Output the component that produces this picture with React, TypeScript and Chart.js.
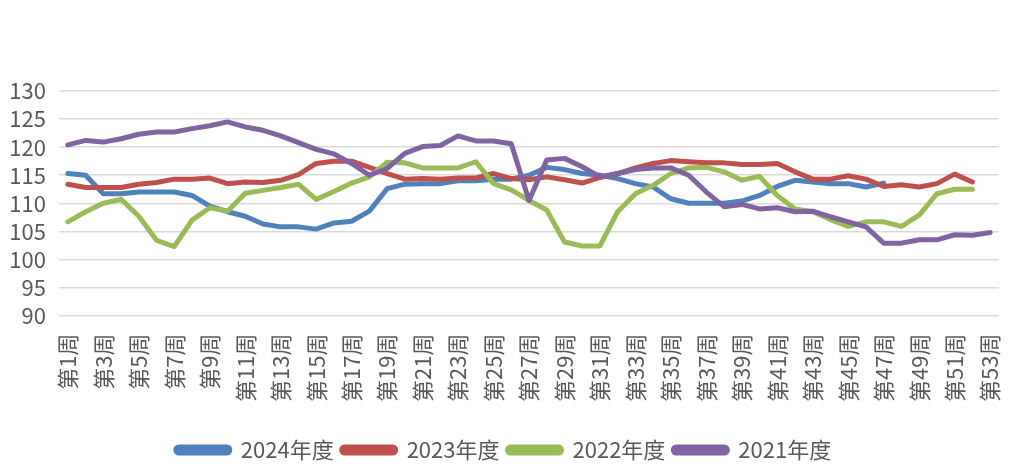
import React, { useEffect, useRef } from "react";
import { Chart, registerables } from "chart.js";

Chart.register(...registerables);

const weeks = [
  "第1周", "第2周", "第3周", "第4周", "第5周", "第6周", "第7周", "第8周", "第9周", "第10周",
  "第11周", "第12周", "第13周", "第14周", "第15周", "第16周", "第17周", "第18周", "第19周", "第20周",
  "第21周", "第22周", "第23周", "第24周", "第25周", "第26周", "第27周", "第28周", "第29周", "第30周",
  "第31周", "第32周", "第33周", "第34周", "第35周", "第36周", "第37周", "第38周", "第39周", "第40周",
  "第41周", "第42周", "第43周", "第44周", "第45周", "第46周", "第47周", "第48周", "第49周", "第50周",
  "第51周", "第52周", "第53周",
];

const series2024 = [
  115.3, 115.0, 111.7, 111.7, 112.0, 112.0, 112.0, 111.4, 109.5, 108.5,
  107.7, 106.3, 105.8, 105.8, 105.4, 106.5, 106.8, 108.6, 112.6, 113.4,
  113.5, 113.5, 114.0, 114.0, 114.3, 114.3, 115.0, 116.4, 116.0, 115.3,
  115.0, 114.4, 113.5, 112.9, 110.8, 110.0, 110.0, 110.0, 110.4, 111.4,
  113.0, 114.1, 113.8, 113.5, 113.5, 112.9, 113.6,
];

const series2023 = [
  113.4, 112.8, 112.8, 112.8, 113.4, 113.7, 114.3, 114.3, 114.5, 113.5,
  113.8, 113.7, 114.1, 115.1, 117.1, 117.5, 117.5, 116.4, 115.3, 114.3,
  114.4, 114.3, 114.5, 114.5, 115.3, 114.4, 114.2, 114.7, 114.2, 113.6,
  114.6, 115.3, 116.3, 117.1, 117.6, 117.4, 117.2, 117.2, 116.9, 116.9,
  117.1, 115.6, 114.3, 114.3, 114.9, 114.3, 113.0, 113.3, 112.9, 113.5,
  115.2, 113.8,
];

const series2022 = [
  106.7, 108.5, 110.0, 110.7, 107.7, 103.4, 102.3, 107.0, 109.2, 108.6,
  111.8, 112.3, 112.8, 113.4, 110.7, 112.1, 113.6, 114.7, 117.3, 117.2,
  116.3, 116.3, 116.3, 117.4, 113.5, 112.4, 110.5, 108.8, 103.1, 102.4,
  102.4, 108.5, 111.7, 113.2, 115.3, 116.3, 116.4, 115.6, 114.1, 114.8,
  111.4, 109.0, 108.5, 107.1, 105.9, 106.7, 106.7, 105.9, 107.9, 111.7,
  112.5, 112.5,
];

const series2021 = [
  120.4, 121.2, 120.9, 121.5, 122.3, 122.7, 122.7, 123.3, 123.8, 124.5,
  123.6, 123.0, 122.0, 120.8, 119.6, 118.8, 117.1, 115.0, 116.2, 118.9,
  120.1, 120.3, 122.0, 121.1, 121.1, 120.6, 110.5, 117.7, 118.0, 116.5,
  114.7, 115.3, 116.0, 116.3, 116.3, 115.0, 112.0, 109.4, 109.8, 109.0,
  109.2, 108.5, 108.6, 107.6, 106.7, 105.8, 102.9, 102.9, 103.5, 103.5,
  104.4, 104.3, 104.8,
];

const seriesNames = ["2024年度", "2023年度", "2022年度", "2021年度"];
const seriesColors = ["#4F81BD", "#C0504D", "#9BBB59", "#8064A2"];

const FONT = "'Noto Sans CJK SC', 'Noto Sans', sans-serif";
const TEXT = "#595959";

export default function App() {
  const ref = useRef<HTMLCanvasElement | null>(null);

  useEffect(() => {
    document.body.style.margin = "0";
    const values = [series2024, series2023, series2022, series2021];
    const chart = new Chart(ref.current as HTMLCanvasElement, {
      type: "line",
      data: {
        labels: weeks,
        datasets: values.map((v, i) => ({
          label: seriesNames[i],
          data: v,
          borderColor: seriesColors[i],
          backgroundColor: seriesColors[i],
          borderWidth: 5,
          pointRadius: 0,
          pointHoverRadius: 0,
          tension: 0,
          borderCapStyle: "round" as const,
          borderJoinStyle: "round" as const,
          fill: false,
          order: 4 - i,
        })),
      },
      options: {
        responsive: false,
        animation: false,
        layout: { padding: { top: 91, left: 8, right: 15, bottom: 2 } },
        scales: {
          x: {
            offset: true,
            afterFit: (s: any) => {
              s.paddingLeft = 0;
              s.paddingRight = 0;
              s.height = s.height + 19;
            },
            grid: { display: false },
            border: { display: false },
            ticks: {
              autoSkip: false,
              maxRotation: 90,
              minRotation: 90,
              padding: 10,
              color: TEXT,
              font: { family: FONT, size: 22 },
              callback: (_v: any, i: number) => (i % 2 === 0 ? weeks[i] : ""),
            },
          },
          y: {
            min: 90,
            max: 130,
            afterFit: (s: any) => {
              s.width = 51;
            },
            grid: { color: "#D9D9D9", lineWidth: 1.5, drawTicks: false },
            border: { display: false },
            ticks: {
              stepSize: 5,
              autoSkip: false,
              padding: 13,
              color: TEXT,
              font: { family: FONT, size: 22 },
            },
          },
        },
        plugins: {
          tooltip: { enabled: false },
          legend: {
            position: "bottom",
            labels: {
              boxWidth: 54,
              boxHeight: 6,
              useBorderRadius: true,
              borderRadius: 3,
              padding: 8,
              color: TEXT,
              font: { family: FONT, size: 22 },
              sort: (a: any, b: any) => a.datasetIndex - b.datasetIndex,
            },
          },
        },
      },
    });
    return () => chart.destroy();
  }, []);

  return <canvas ref={ref} width={1014} height={473} style={{ display: "block" }} />;
}
